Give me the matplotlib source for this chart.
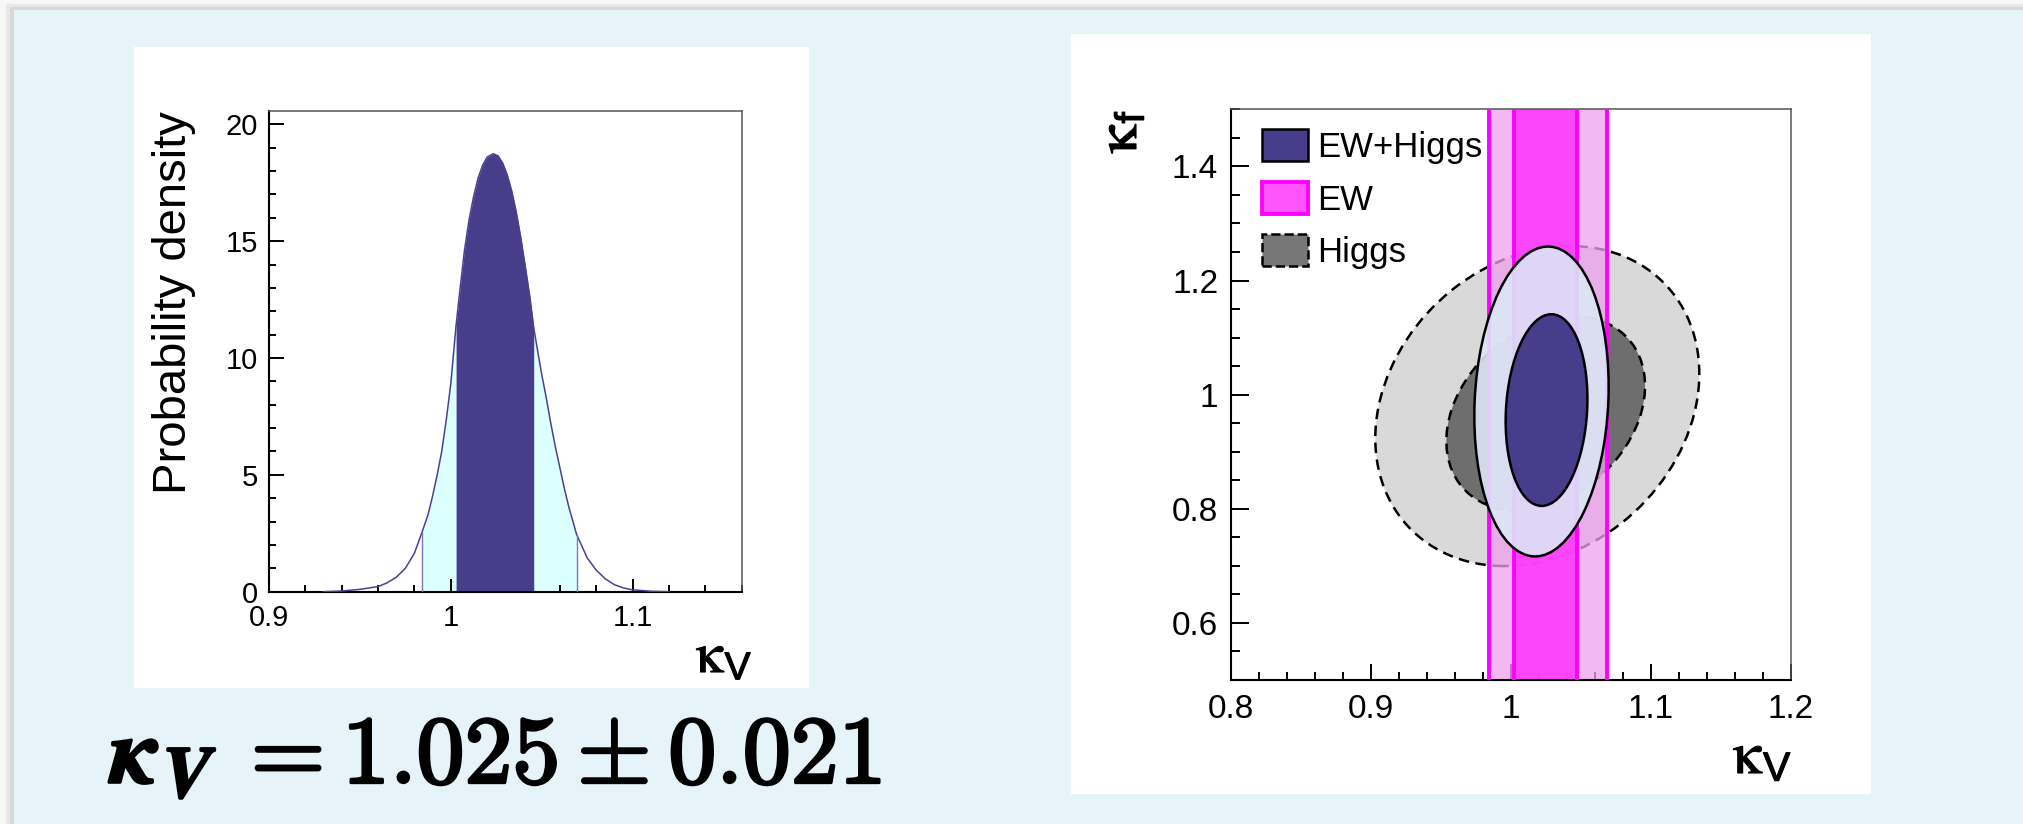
import matplotlib
matplotlib.use("Agg")
import matplotlib.pyplot as plt
from matplotlib import patheffects
from matplotlib.patches import Rectangle, Ellipse, Patch
from matplotlib.ticker import MultipleLocator, FuncFormatter

plt.rcParams['font.family'] = ['Liberation Sans', 'DejaVu Sans']

W, H = 2023, 824

# left panel: posterior density of kappa_V
kv_grid = [0.930, 0.940, 0.950, 0.960, 0.965, 0.970, 0.975, 0.980, 0.9844,
           0.9875, 0.990, 0.9925, 0.995, 0.9975, 1.000, 1.0029, 1.005, 1.0075,
           1.010, 1.0125, 1.015, 1.0175, 1.020, 1.0233, 1.026, 1.0285, 1.031,
           1.0335, 1.036, 1.0385, 1.041, 1.0435, 1.0456, 1.048, 1.050, 1.0525,
           1.055, 1.0575, 1.060, 1.0625, 1.065, 1.0692, 1.075, 1.080, 1.085,
           1.090, 1.095, 1.100, 1.110, 1.120]
kv_density = [0.00, 0.03, 0.10, 0.22, 0.38, 0.62, 1.00, 1.65, 2.60,
              3.30, 4.10, 5.00, 6.00, 7.35, 8.90, 11.40, 12.90, 14.60,
              15.90, 16.90, 17.70, 18.25, 18.60, 18.74, 18.65, 18.35, 17.85,
              17.15, 16.25, 15.15, 13.90, 12.60, 11.30, 10.20, 9.30, 8.30,
              7.20, 6.20, 5.30, 4.40, 3.60, 2.45, 1.45, 0.92, 0.55,
              0.30, 0.16, 0.08, 0.02, 0.00]
kv_68 = [1.0029, 1.0456]
kv_95 = [0.9844, 1.0692]

# right panel: kappa_V vs kappa_f
ew_68 = [1.0020, 1.0473]
ew_95 = [0.9843, 1.0690]
# ellipse contours: centre kV, centre kf, width, height, angle (deg)
higgs_95 = [1.019, 0.980, 0.2257, 0.563, -5.7]
higgs_68 = [1.025, 0.967, 0.135, 0.343, -8.0]
comb_95 = [1.022, 0.988, 0.0955, 0.543, -1.0]
comb_68 = [1.0256, 0.973, 0.058, 0.336, -1.2]
legend_labels = ["EW+Higgs", "EW", "Higgs"]

DARK = '#483d8b'
DASH = (0, (4.2, 2.6))


def fx(x):
    return x / W


def fy(y):
    return 1 - y / H


def fig_rect(fig, x0, y0, x1, y1, color, z, alpha=1.0):
    fig.patches.append(Rectangle((fx(x0), fy(y1)), (x1 - x0) / W, (y1 - y0) / H,
                                 transform=fig.transFigure, facecolor=color,
                                 edgecolor='none', alpha=alpha, zorder=z))


def style_axes(ax, ymaj, ymin, xmaj, xmin, lens, size, pads):
    ax.xaxis.set_major_locator(MultipleLocator(xmaj))
    ax.xaxis.set_minor_locator(MultipleLocator(xmin))
    ax.yaxis.set_major_locator(MultipleLocator(ymaj))
    ax.yaxis.set_minor_locator(MultipleLocator(ymin))
    fmt = FuncFormatter(lambda v, p: '%g' % round(v, 6))
    ax.xaxis.set_major_formatter(fmt)
    ax.yaxis.set_major_formatter(fmt)
    ax.tick_params(which='both', direction='in', top=False, right=False,
                   width=1.4, colors='black', labelsize=size)
    ax.tick_params(axis='y', which='major', length=lens[0], pad=pads[0])
    ax.tick_params(axis='y', which='minor', length=lens[1])
    ax.tick_params(axis='x', which='major', length=lens[2], pad=pads[1])
    ax.tick_params(axis='x', which='minor', length=lens[3])
    for s in ['left', 'bottom']:
        ax.spines[s].set_linewidth(1.5)
        ax.spines[s].set_color('black')
    for s in ['top', 'right']:
        ax.spines[s].set_linewidth(1.1)
        ax.spines[s].set_color('#555555')


def kappa_label(fig, x, y, sub, size, rotation=0, ha='left', va='baseline'):
    fig.text(fx(x), fy(y), r'$\mathrm{\kappa}_{\mathregular{%s}}$' % sub,
             fontsize=size, math_fontfamily='stix', rotation=rotation,
             ha=ha, va=va,
             path_effects=[patheffects.withStroke(linewidth=0.8, foreground='black')])


fig = plt.figure(figsize=(W / 100, H / 100), dpi=100)
fig.patch.set_facecolor('#f7f7f7')

# slide background with a soft shadow
fig_rect(fig, 6, 4, W, H, '#e8e8e8', -10)
fig_rect(fig, 10, 7, W, H, '#d8d8d8', -9)
fig_rect(fig, 14, 10, W, H, '#e6f3f8', -8)
fig_rect(fig, 134, 47, 809, 688, 'white', -7)
fig_rect(fig, 1071, 34, 1871, 794, 'white', -7)

# ---- left panel ----
ax1 = fig.add_axes([fx(269), fy(591.7), (741.7 - 269) / W, (591.7 - 111) / H])
ax1.set_xlim(0.9, 1.16)
ax1.set_ylim(0, 20.57)
in95 = [kv_95[0] <= v <= kv_95[1] for v in kv_grid]
in68 = [kv_68[0] <= v <= kv_68[1] for v in kv_grid]
ax1.fill_between(kv_grid, 0, kv_density, where=in95, color='#dcffff', lw=0, zorder=1)
ax1.fill_between(kv_grid, 0, kv_density, where=in68, color=DARK, lw=0, zorder=2)
ax1.plot(kv_grid, kv_density, color='#4a3f95', lw=1.1, zorder=3)
for e in kv_95:
    ax1.vlines(e, 0, kv_density[kv_grid.index(e)], color='#7a78b8', lw=1.0, zorder=3)
style_axes(ax1, 5, 1, 0.1, 0.02, (10.8, 5.2, 9.4, 5.0), 21, (8, 9))

fig.text(fx(173.5), fy(111), 'Probability density', rotation=90,
         ha='center', va='top', fontsize=34)
kappa_label(fig, 696, 672, 'V', 40)

# ---- right panel ----
ax2 = fig.add_axes([fx(1230.7), fy(680), 560 / W, 570.7 / H])
ax2.set_xlim(0.8, 1.2)
ax2.set_ylim(0.5, 1.5)


def contour(ax, c, face, edge, ls, z, lw=1.6):
    ax.add_patch(Ellipse((c[0], c[1]), c[2], c[3], angle=c[4], facecolor=face,
                         edgecolor=edge, lw=lw, linestyle=ls, zorder=z))


contour(ax2, higgs_95, '#d9d9d9', 'black', DASH, 1, lw=1.8)
contour(ax2, higgs_68, '#6e6e6e', 'black', DASH, 1.5, lw=1.8)
ax2.axvspan(ew_95[0], ew_95[1], color='#ef9fed', alpha=0.75, lw=0, zorder=2)
ax2.axvspan(ew_68[0], ew_68[1], color='#fc3cfc', alpha=0.92, lw=0, zorder=2.5)
for e in ew_95 + ew_68:
    ax2.axvline(e, color='#ff00ff', lw=2.8, zorder=3)
contour(ax2, comb_95, (0.867, 0.902, 0.965, 0.9), 'black', '-', 4, lw=1.8)
contour(ax2, comb_68, DARK, 'black', '-', 5, lw=1.8)

style_axes(ax2, 0.2, 0.05, 0.1, 0.02, (13, 6.5, 11.5, 5.8), 24, (9, 10))

handles = [Patch(facecolor=DARK, edgecolor='black', lw=1.8),
           Patch(facecolor='#ff55ff', edgecolor='#ff00ff', lw=2.8),
           Patch(facecolor='#777777', edgecolor='black', lw=1.8, linestyle='--')]
leg = ax2.legend(handles, legend_labels, loc='upper left',
                 bbox_to_anchor=(0.055, 0.965), frameon=False, fontsize=25,
                 handlelength=1.35, handleheight=1.05, handletextpad=0.25,
                 labelspacing=0.5, borderpad=0, borderaxespad=0)
leg.set_zorder(10)

kappa_label(fig, 1733, 773, 'V', 42)
kappa_label(fig, 1148, 110, 'f', 42, rotation=90, ha='right', va='top')

# ---- result ----
bold = [patheffects.withStroke(linewidth=2.2, foreground='black')]
fig.text(fx(111), fy(783), r'$\mathbfit{\kappa}$', fontsize=66,
         math_fontfamily='stix', ha='left', va='baseline', path_effects=bold)
fig.text(fx(163), fy(797), r'$\mathbfit{V}$', fontsize=52,
         math_fontfamily='stix', ha='left', va='baseline', path_effects=bold)
fig.text(fx(234), fy(783), r'$\mathbf{=1.025\pm0.021}$', fontsize=69,
         math_fontfamily='cm', ha='left', va='baseline', path_effects=bold)

fig.savefig('out.png', dpi=100, facecolor=fig.get_facecolor())
